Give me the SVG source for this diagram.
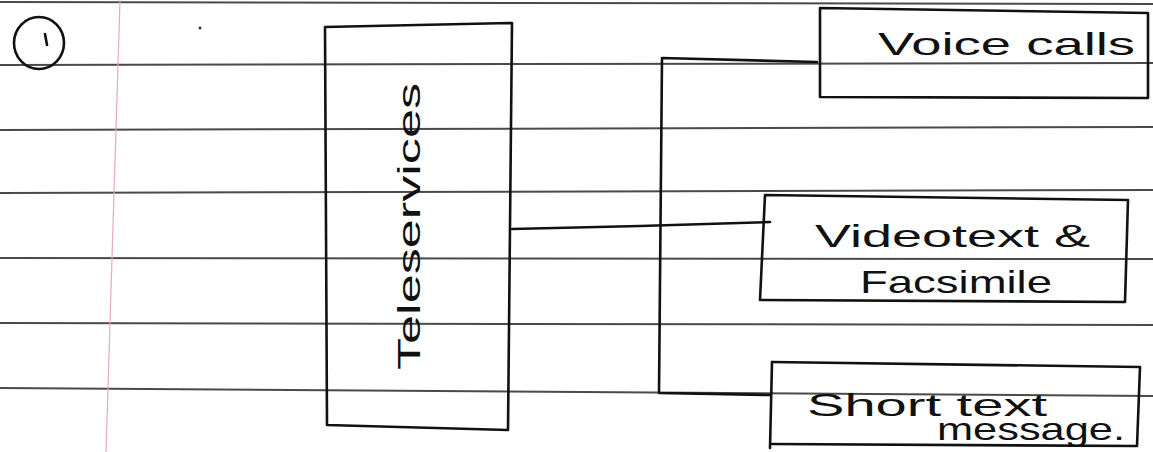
<svg xmlns="http://www.w3.org/2000/svg" width="1153" height="452" viewBox="0 0 1153 452">
<style>
.rule{stroke:#4a4a4a;stroke-width:2;fill:none}
.ink{stroke:#111;stroke-width:2.6;fill:none;stroke-linejoin:round;stroke-linecap:round}
.lbl{font-family:"Liberation Sans",Arial,sans-serif;fill:#111;font-size:32px}
</style>
<rect width="1153" height="452" fill="#ffffff"/>
<g id="paper">
<line class="rule" x1="0" y1="2" x2="1153" y2="4"/>
<line class="rule" x1="0" y1="65" x2="1153" y2="63"/>
<line class="rule" x1="0" y1="130" x2="1153" y2="127"/>
<line class="rule" x1="0" y1="193" x2="1153" y2="190"/>
<line class="rule" x1="0" y1="258" x2="1153" y2="259"/>
<line class="rule" x1="0" y1="323" x2="1153" y2="325"/>
<line class="rule" x1="0" y1="388" x2="1153" y2="396"/>
<line x1="120" y1="0" x2="106" y2="452" stroke="#e8a6c8" stroke-width="1.2"/>
</g>
<g id="mark">
<ellipse class="ink" cx="39" cy="43" rx="25" ry="26"/>
<path class="ink" d="M45 34 L47 45" stroke-width="2"/>
<circle cx="200" cy="28" r="1.5" fill="#333"/>
</g>
<g id="teleservices">
<path class="ink" d="M325 27 L512 23 L508 430 L327 425 Z"/>
<text class="lbl" transform="translate(420 370) rotate(-90)" font-size="44" textLength="287" lengthAdjust="spacingAndGlyphs">Teleservices</text>
</g>
<g id="voice-calls">
<path class="ink" d="M820 8 L1148 13 L1148 98 L820 97 Z"/>
<text class="lbl" x="878" y="55" textLength="257" lengthAdjust="spacingAndGlyphs">Voice calls</text>
</g>
<g id="videotext">
<path class="ink" d="M765 195 L1128 200 L1125 302 L760 300 Z"/>
<text class="lbl" x="815" y="247" textLength="275" lengthAdjust="spacingAndGlyphs">Videotext &amp;</text>
<text class="lbl" x="860" y="293" textLength="192" lengthAdjust="spacingAndGlyphs">Facsimile</text>
</g>
<g id="short-text">
<path class="ink" d="M772 362 L1140 367 L1137 446 L772 444"/>
<path class="ink" d="M772 362 L770 448"/>
<text class="lbl" x="807" y="416" textLength="240" lengthAdjust="spacingAndGlyphs">Short text</text>
<text class="lbl" x="937" y="440" font-size="30" textLength="188" lengthAdjust="spacingAndGlyphs">message.</text>
</g>
<g id="connectors">
<path class="ink" d="M512 229 L640 226 L770 222"/>
<path class="ink" d="M817 62 L662 58 L659 393 L770 395"/>
</g>
</svg>
